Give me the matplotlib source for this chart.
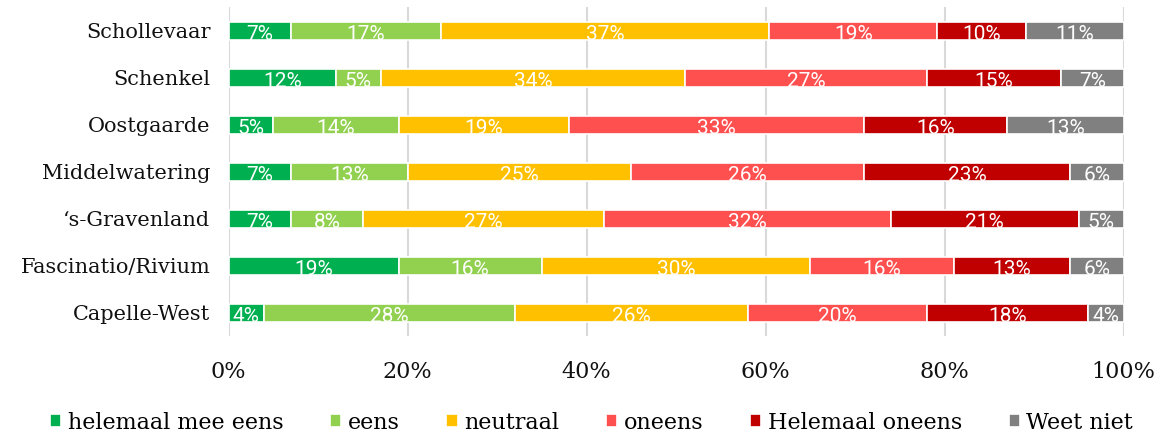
import matplotlib
matplotlib.use('Agg')
import matplotlib.pyplot as plt
import numpy as np

# 지역 (위에서 아래 순서)
regions = ['Schollevaar', 'Schenkel', 'Oostgaarde', 'Middelwatering',
           '\u2018s-Gravenland', 'Fascinatio/Rivium', 'Capelle-West']
answers = ['helemaal mee eens', 'eens', 'neutraal', 'oneens',
           'Helemaal oneens', 'Weet niet']

helemaal_eens = [7, 12, 5, 7, 7, 19, 4]
eens = [17, 5, 14, 13, 8, 16, 28]
neutraal = [37, 34, 19, 25, 27, 30, 26]
oneens = [19, 27, 33, 26, 32, 16, 20]
helemaal_oneens = [10, 15, 16, 23, 21, 13, 18]
weet_niet = [11, 7, 13, 6, 5, 6, 4]

colors = ['#00B050', '#92D050', '#FFC000', '#FF5050', '#C00000', '#808080']

series = [helemaal_eens, eens, neutraal, oneens, helemaal_oneens, weet_niet]
data = np.array(series, dtype=float)
totals = data.sum(axis=0)
shares = data / totals * 100  # 100% gestapeld

fig = plt.figure(figsize=(11.6, 4.34), dpi=100)
ax = fig.add_axes([0.197, 0.2247, 0.7716, 0.7583])

ypos = np.arange(len(regions))[::-1]
left = np.zeros(len(regions))
for i, name in enumerate(answers):
    bars = ax.barh(ypos, shares[i], left=left, height=0.38, color=colors[i],
                   edgecolor='white', linewidth=1.2, label=name, zorder=3)
    for bar, val in zip(bars, data[i]):
        cx = bar.get_x() + bar.get_width() / 2
        cy = bar.get_y() + bar.get_height() / 2
        t = ax.text(cx, cy - 0.07, f'{int(val)}%', ha='center', va='center',
                    color='white', fontsize=15, family='Roboto', zorder=4)
        t.set_clip_path(bar)
    left += shares[i]

ax.set_xlim(0, 100)
ax.set_ylim(-0.5, len(regions) - 0.5)
ax.set_xticks(np.arange(0, 101, 20))
ax.set_xticklabels([f'{v}%' for v in range(0, 101, 20)])
ax.set_yticks(ypos)
ax.set_yticklabels(regions)
ax.grid(axis='x', color='#D9D9D9', linewidth=1.5, zorder=0)
for s in ax.spines.values():
    s.set_visible(False)
ax.tick_params(axis='y', length=0, labelsize=15, pad=13)
ax.tick_params(axis='x', length=0, labelsize=16, pad=18)
for lab in ax.get_xticklabels() + ax.get_yticklabels():
    lab.set_family('DejaVu Serif')
    lab.set_color('#111111')

fig.legend(loc='lower center', bbox_to_anchor=(0.51, -0.045), ncol=6, frameon=False,
           prop={'family': 'DejaVu Serif', 'size': 16}, handlelength=0.5,
           handleheight=0.5, handletextpad=0.3, columnspacing=2.1)

fig.savefig('out.png', dpi=100)
